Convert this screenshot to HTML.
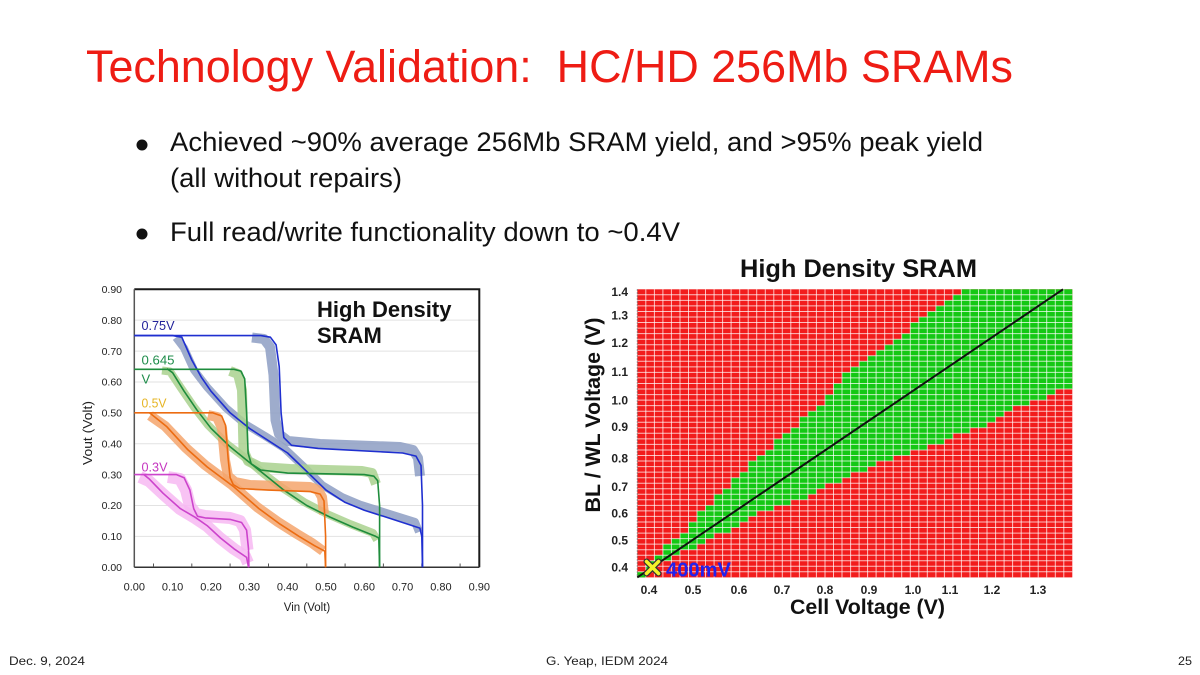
<!DOCTYPE html>
<html><head><meta charset="utf-8"><style>
html,body{margin:0;padding:0;background:#fff;}
svg{display:block;}
text{font-family:"Liberation Sans",Arial,sans-serif;}
</style></head><body>
<svg width="1200" height="675" viewBox="0 0 1200 675" xmlns="http://www.w3.org/2000/svg">
<rect width="1200" height="675" fill="#fff"/>

<!-- Title & bullets -->
<text x="86" y="82" font-size="45" fill="#ee1c14" textLength="927" lengthAdjust="spacingAndGlyphs" xml:space="preserve" style="white-space:pre">Technology Validation:  HC/HD 256Mb SRAMs</text>
<circle cx="142" cy="145" r="5.5" fill="#111"/>
<text x="170" y="151" font-size="27" fill="#111" textLength="813" lengthAdjust="spacingAndGlyphs">Achieved ~90% average 256Mb SRAM yield, and &gt;95% peak yield</text>
<text x="170" y="187" font-size="27" fill="#111" textLength="232" lengthAdjust="spacingAndGlyphs">(all without repairs)</text>
<circle cx="142" cy="234" r="5.5" fill="#111"/>
<text x="170" y="241" font-size="27" fill="#111" textLength="510" lengthAdjust="spacingAndGlyphs">Full read/write functionality down to ~0.4V</text>

<!-- Footer -->
<text x="9" y="665" font-size="12" fill="#222" textLength="76" lengthAdjust="spacingAndGlyphs">Dec. 9, 2024</text>
<text x="546" y="665" font-size="12" fill="#222" textLength="122" lengthAdjust="spacingAndGlyphs">G. Yeap, IEDM 2024</text>
<text x="1178" y="665" font-size="12" fill="#222" textLength="14" lengthAdjust="spacingAndGlyphs">25</text>

<!-- ============ LEFT CHART ============ -->
<g stroke="#e2e2e2" stroke-width="1">
<line x1="134.3" y1="536.4" x2="479.3" y2="536.4"/>
<line x1="134.3" y1="505.5" x2="479.3" y2="505.5"/>
<line x1="134.3" y1="474.6" x2="479.3" y2="474.6"/>
<line x1="134.3" y1="443.7" x2="479.3" y2="443.7"/>
<line x1="134.3" y1="412.85" x2="479.3" y2="412.85"/>
<line x1="134.3" y1="381.96" x2="479.3" y2="381.96"/>
<line x1="134.3" y1="351.07" x2="479.3" y2="351.07"/>
<line x1="134.3" y1="320.18" x2="479.3" y2="320.18"/>
</g>
<path d="M134.3 289.3H479.3V567.3" fill="none" stroke="#1a1a1a" stroke-width="2"/>
<line x1="134.3" y1="289.3" x2="134.3" y2="567.3" stroke="#555" stroke-width="1.5"/>
<line x1="134.3" y1="567.3" x2="479.3" y2="567.3" stroke="#333" stroke-width="1.5"/>
<g stroke="#555" stroke-width="1">
<path d="M153.5 567V563.5M191.8 567V563.5M230.1 567V563.5M268.5 567V563.5M306.8 567V563.5M345.1 567V563.5M383.4 567V563.5M421.8 567V563.5M460.1 567V563.5"/>
</g>

<!-- bundles -->
<g fill="none" stroke-linejoin="round" stroke-linecap="butt" stroke-opacity="0.85">
<path d="M252 337.5 L264 339 L270 347 L273.5 375 L275.5 420 L279 434 L288 441 L320 444 L400 447 L413 450 L418 458 L420 476" stroke="#8d9ec3" stroke-width="10"/>
<path d="M176 337.5 L184 348 L194 370 L207 387 L226 408 L245 424 L265 436 L284 448 L303 466 L322 485 L342 497 L361 505 L380 511 L399 517 L415 522 L419 532" stroke="#8d9ec3" stroke-width="8"/>
<path d="M230 371 L238 374 L242 390 L243.5 450 L248 461 L260 467 L290 469 L362 471 L372 473 L376 484" stroke="#a9d18e" stroke-width="10"/>
<path d="M162 370.5 L170 371.5 L181 388 L194 407 L208 425 L227 444 L244 457 L264 474 L281 487 L304 502 L327 514 L350 524 L373 533 L377 540" stroke="#a9d18e" stroke-width="8"/>
<path d="M208 415 L217 417 L222 428 L225 460 L228 476 L235 482 L250 485 L310 487 L318 490 L322 497 L324 514" stroke="#f5a56c" stroke-width="10"/>
<path d="M150 415.5 L165 426 L186 448 L205 465 L232 485 L257 507 L278 522 L297 534 L312 543 L323 551" stroke="#f5a56c" stroke-width="10"/>
<path d="M168 477 L180 479 L186 490 L190 506 L196 514 L205 516 L230 518 L240 521 L245 530 L247.5 550" stroke="#f7b8f2" stroke-width="12"/>
<path d="M140 477 L149 481 L163 494 L180 509 L195 518 L207 526 L220 538 L234 549 L245 556 L248 563" stroke="#f7b8f2" stroke-width="12"/>
</g>

<!-- dark curves -->
<g fill="none" stroke-width="1.6" stroke-linejoin="round">
<path stroke="#1f2fd0" d="M134.3 335.6 L260.8 335.6 L270.4 337.2 L276.1 344.9 L279.2 366.5 L281.1 412.8 L283.8 437.6 L291.5 445.3 L318.3 448.4 L402.6 453 L416 456.1 L421 465.4 L422.5 505.5 L422.5 567.3"/>
<path stroke="#1f2fd0" d="M134.3 335.6 L172.6 335.6 L181.8 337.2 L191.8 360 L201.4 377.3 L211 391.2 L230.1 412.8 L249.3 428.3 L268.5 440.7 L287.6 453 L306.8 471.5 L326 490.1 L345.1 502.4 L364.3 510.2 L383.4 516.3 L402.6 522.5 L419.9 528.1 L421.8 536.4 L422.5 567.3"/>
<path stroke="#1e8c3c" d="M134.3 369.3 L234 369.3 L240.9 371.1 L244.7 378.9 L246.6 412.8 L248.1 453 L251.2 463.8 L260.8 470 L287.6 473.1 L364.3 474.6 L373.9 476.2 L377.7 480.8 L379.6 505.5 L379.6 567.3"/>
<path stroke="#1e8c3c" d="M166.9 368.6 L172.6 372.7 L184.1 391.2 L196.8 409.8 L211 428.3 L230.1 446.8 L246.6 460.1 L267.3 476.8 L283.8 490.1 L306.8 505.5 L329.8 517 L352.8 527.1 L375.8 536.4 L378.8 538 L379.6 567.3"/>
<path stroke="#ec6c12" d="M134.3 412.85 L212.9 412.85 L221.7 416 L225.5 425.2 L228.2 459.2 L230.1 477.7 L233.2 484.5 L239.7 488.5 L268.5 490.1 L310.6 491.6 L320.2 494.1 L324 500.9 L325.6 536.4 L325.6 567.3"/>
<path stroke="#ec6c12" d="M149.6 412.85 L155.4 417.5 L166.9 426.8 L188 449.9 L207.1 466.9 L234 487 L258.9 508.6 L280 524.1 L299.1 536.4 L314.5 545.7 L324.8 551.2 L325.6 567.3"/>
<path stroke="#cc44cc" d="M134.3 474.6 L176.5 474.6 L184.1 477.7 L189.9 490.1 L193.7 508.6 L197.5 516.3 L205.2 517.9 L230.1 519.4 L241.6 522.5 L246.6 530.2 L248.5 548.8 L248.9 567.3"/>
<path stroke="#cc44cc" d="M143.9 474.6 L149.6 479.3 L163 493.2 L180.3 508.6 L195.2 517.3 L207.1 525.6 L220.5 538 L234 548.8 L246.6 557.4 L248.5 567.3"/>
</g>

<!-- left axis labels -->
<g font-size="10.5" fill="#222" text-anchor="end">
<text x="122" y="571">0.00</text>
<text x="122" y="540.1">0.10</text>
<text x="122" y="509.2">0.20</text>
<text x="122" y="478.3">0.30</text>
<text x="122" y="447.4">0.40</text>
<text x="122" y="416.5">0.50</text>
<text x="122" y="385.6">0.60</text>
<text x="122" y="354.8">0.70</text>
<text x="122" y="323.9">0.80</text>
<text x="122" y="293">0.90</text>
</g>
<g font-size="11" fill="#222" text-anchor="middle">
<text x="134.3" y="590.5">0.00</text>
<text x="172.6" y="590.5">0.10</text>
<text x="211" y="590.5">0.20</text>
<text x="249.3" y="590.5">0.30</text>
<text x="287.6" y="590.5">0.40</text>
<text x="326" y="590.5">0.50</text>
<text x="364.3" y="590.5">0.60</text>
<text x="402.6" y="590.5">0.70</text>
<text x="440.9" y="590.5">0.80</text>
<text x="479.3" y="590.5">0.90</text>
</g>
<text x="307" y="611" font-size="11.5" fill="#222" text-anchor="middle">Vin (Volt)</text>
<text transform="translate(92,433) rotate(-90)" font-size="12.5" fill="#222" text-anchor="middle" textLength="64" lengthAdjust="spacingAndGlyphs">Vout (Volt)</text>
<text x="317" y="317" font-size="22" font-weight="bold" fill="#111">High Density</text>
<text x="317" y="343" font-size="22" font-weight="bold" fill="#111">SRAM</text>
<g font-size="13">
<text x="141.5" y="330" fill="#22229a" textLength="33" lengthAdjust="spacingAndGlyphs">0.75V</text>
<text x="141.5" y="364.5" fill="#1e8c4a" textLength="33" lengthAdjust="spacingAndGlyphs">0.645</text>
<text x="141.5" y="383.5" fill="#1e8c4a">V</text>
<text x="141.5" y="407.3" fill="#e6b422" textLength="25" lengthAdjust="spacingAndGlyphs">0.5V</text>
<text x="141.5" y="471.5" fill="#c536c0" textLength="26" lengthAdjust="spacingAndGlyphs">0.3V</text>
</g>

<!-- ============ RIGHT CHART ============ -->
<text x="740" y="277" font-size="25" font-weight="bold" fill="#111" textLength="237" lengthAdjust="spacingAndGlyphs">High Density SRAM</text>
<rect x="637.3" y="289.3" width="435" height="288.1" fill="#f21c1c"/>
<g fill="#14c814">
<rect x="961.4" y="289.3" width="110.9" height="5.6"/>
<rect x="952.9" y="294.8" width="119.4" height="5.7"/>
<rect x="944.4" y="300.4" width="127.9" height="5.6"/>
<rect x="935.9" y="305.9" width="136.4" height="5.7"/>
<rect x="927.3" y="311.5" width="145" height="5.6"/>
<rect x="918.8" y="317" width="153.5" height="5.6"/>
<rect x="910.3" y="322.5" width="162" height="5.7"/>
<rect x="910.3" y="328.1" width="162" height="5.6"/>
<rect x="901.7" y="333.6" width="170.6" height="5.7"/>
<rect x="893.2" y="339.2" width="179.1" height="5.6"/>
<rect x="884.7" y="344.7" width="187.6" height="5.6"/>
<rect x="876.1" y="350.2" width="196.2" height="5.7"/>
<rect x="867.6" y="355.8" width="204.7" height="5.6"/>
<rect x="859.1" y="361.3" width="213.2" height="5.7"/>
<rect x="850.6" y="366.9" width="221.7" height="5.6"/>
<rect x="842" y="372.4" width="230.3" height="5.6"/>
<rect x="842" y="377.9" width="230.3" height="5.7"/>
<rect x="833.5" y="383.5" width="238.8" height="5.6"/>
<rect x="833.5" y="389" width="221.8" height="5.7"/>
<rect x="825" y="394.6" width="221.7" height="5.6"/>
<rect x="825" y="400.1" width="204.7" height="5.6"/>
<rect x="816.4" y="405.6" width="196.2" height="5.7"/>
<rect x="807.9" y="411.2" width="196.2" height="5.6"/>
<rect x="799.4" y="416.7" width="196.2" height="5.7"/>
<rect x="799.4" y="422.3" width="187.6" height="5.6"/>
<rect x="790.8" y="427.8" width="179.2" height="5.6"/>
<rect x="782.3" y="433.3" width="170.6" height="5.7"/>
<rect x="773.8" y="438.9" width="170.6" height="5.6"/>
<rect x="773.8" y="444.4" width="153.5" height="5.7"/>
<rect x="765.3" y="450" width="145" height="5.6"/>
<rect x="756.7" y="455.5" width="136.5" height="5.6"/>
<rect x="748.2" y="461" width="127.9" height="5.7"/>
<rect x="748.2" y="466.6" width="119.4" height="5.6"/>
<rect x="739.7" y="472.1" width="110.9" height="5.7"/>
<rect x="731.1" y="477.7" width="110.9" height="5.6"/>
<rect x="731.1" y="483.2" width="93.9" height="5.6"/>
<rect x="722.6" y="488.7" width="93.8" height="5.7"/>
<rect x="714.1" y="494.3" width="93.8" height="5.6"/>
<rect x="714.1" y="499.8" width="76.7" height="5.7"/>
<rect x="705.5" y="505.4" width="68.3" height="5.6"/>
<rect x="697" y="510.9" width="59.7" height="5.6"/>
<rect x="697" y="516.4" width="51.2" height="5.7"/>
<rect x="688.5" y="522" width="51.2" height="5.6"/>
<rect x="688.5" y="527.5" width="42.6" height="5.7"/>
<rect x="680" y="533.1" width="34.1" height="5.6"/>
<rect x="671.4" y="538.6" width="34.1" height="5.6"/>
<rect x="662.9" y="544.1" width="34.1" height="5.7"/>
<rect x="662.9" y="549.7" width="17.1" height="5.6"/>
<rect x="654.4" y="555.2" width="17" height="5.7"/>
<rect x="645.8" y="560.8" width="8.6" height="5.6"/>
<rect x="645.8" y="566.3" width="8.6" height="5.6"/>
<rect x="637.3" y="571.8" width="8.5" height="5.6"/>
</g>
<!-- cell grid lines -->
<path fill="none" stroke="#fff" stroke-opacity="0.72" stroke-width="1" d="M645.8 289.3V577.4M654.4 289.3V577.4M662.9 289.3V577.4M671.4 289.3V577.4M680 289.3V577.4M688.5 289.3V577.4M697 289.3V577.4M705.5 289.3V577.4M714.1 289.3V577.4M722.6 289.3V577.4M731.1 289.3V577.4M739.7 289.3V577.4M748.2 289.3V577.4M756.7 289.3V577.4M765.3 289.3V577.4M773.8 289.3V577.4M782.3 289.3V577.4M790.8 289.3V577.4M799.4 289.3V577.4M807.9 289.3V577.4M816.4 289.3V577.4M825 289.3V577.4M833.5 289.3V577.4M842 289.3V577.4M850.6 289.3V577.4M859.1 289.3V577.4M867.6 289.3V577.4M876.1 289.3V577.4M884.7 289.3V577.4M893.2 289.3V577.4M901.7 289.3V577.4M910.3 289.3V577.4M918.8 289.3V577.4M927.3 289.3V577.4M935.9 289.3V577.4M944.4 289.3V577.4M952.9 289.3V577.4M961.4 289.3V577.4M970 289.3V577.4M978.5 289.3V577.4M987 289.3V577.4M995.6 289.3V577.4M1004.1 289.3V577.4M1012.6 289.3V577.4M1021.2 289.3V577.4M1029.7 289.3V577.4M1038.2 289.3V577.4M1046.7 289.3V577.4M1055.3 289.3V577.4M1063.8 289.3V577.4"/>
<path fill="none" stroke="#fff" stroke-opacity="0.72" stroke-width="1" d="M637.3 294.8H1072.3M637.3 300.4H1072.3M637.3 305.9H1072.3M637.3 311.5H1072.3M637.3 317H1072.3M637.3 322.5H1072.3M637.3 328.1H1072.3M637.3 333.6H1072.3M637.3 339.2H1072.3M637.3 344.7H1072.3M637.3 350.2H1072.3M637.3 355.8H1072.3M637.3 361.3H1072.3M637.3 366.9H1072.3M637.3 372.4H1072.3M637.3 377.9H1072.3M637.3 383.5H1072.3M637.3 389H1072.3M637.3 394.6H1072.3M637.3 400.1H1072.3M637.3 405.6H1072.3M637.3 411.2H1072.3M637.3 416.7H1072.3M637.3 422.3H1072.3M637.3 427.8H1072.3M637.3 433.3H1072.3M637.3 438.9H1072.3M637.3 444.4H1072.3M637.3 450H1072.3M637.3 455.5H1072.3M637.3 461H1072.3M637.3 466.6H1072.3M637.3 472.1H1072.3M637.3 477.7H1072.3M637.3 483.2H1072.3M637.3 488.7H1072.3M637.3 494.3H1072.3M637.3 499.8H1072.3M637.3 505.4H1072.3M637.3 510.9H1072.3M637.3 516.4H1072.3M637.3 522H1072.3M637.3 527.5H1072.3M637.3 533.1H1072.3M637.3 538.6H1072.3M637.3 544.1H1072.3M637.3 549.7H1072.3M637.3 555.2H1072.3M637.3 560.8H1072.3M637.3 566.3H1072.3M637.3 571.8H1072.3"/>
<line x1="637.3" y1="289.3" x2="637.3" y2="577.4" stroke="#777" stroke-width="1" stroke-dasharray="1.5,1.5"/>
<line x1="637.3" y1="577.4" x2="1063" y2="289.3" stroke="#111" stroke-width="2"/>

<!-- marker -->
<g stroke-linecap="round">
<path d="M646.5 561.5L658.5 573.5M658.5 561.5L646.5 573.5" stroke="#333" stroke-width="6"/>
<path d="M646.5 561.5L658.5 573.5M658.5 561.5L646.5 573.5" stroke="#f4f22a" stroke-width="3.5"/>
</g>
<text x="666" y="576.5" font-size="20" font-weight="bold" fill="#2222ee" textLength="65" lengthAdjust="spacingAndGlyphs">400mV</text>

<!-- right axis labels -->
<g font-size="12" font-weight="bold" fill="#222" text-anchor="end">
<text x="628" y="296">1.4</text>
<text x="628" y="319.6">1.3</text>
<text x="628" y="347">1.2</text>
<text x="628" y="376">1.1</text>
<text x="628" y="404.3">1.0</text>
<text x="628" y="431">0.9</text>
<text x="628" y="462.6">0.8</text>
<text x="628" y="491">0.7</text>
<text x="628" y="517.6">0.6</text>
<text x="628" y="544.3">0.5</text>
<text x="628" y="571.6">0.4</text>
</g>
<g font-size="12" font-weight="bold" fill="#222" text-anchor="middle">
<text x="649" y="594">0.4</text>
<text x="693" y="594">0.5</text>
<text x="739" y="594">0.6</text>
<text x="782" y="594">0.7</text>
<text x="825" y="594">0.8</text>
<text x="869" y="594">0.9</text>
<text x="913" y="594">1.0</text>
<text x="950" y="594">1.1</text>
<text x="992" y="594">1.2</text>
<text x="1038" y="594">1.3</text>
</g>
<text x="790" y="614" font-size="21" font-weight="bold" fill="#111" textLength="155" lengthAdjust="spacingAndGlyphs">Cell Voltage (V)</text>
<text transform="translate(600,415) rotate(-90)" font-size="21" font-weight="bold" fill="#111" text-anchor="middle" textLength="195" lengthAdjust="spacingAndGlyphs">BL / WL Voltage (V)</text>
</svg>
</body></html>
